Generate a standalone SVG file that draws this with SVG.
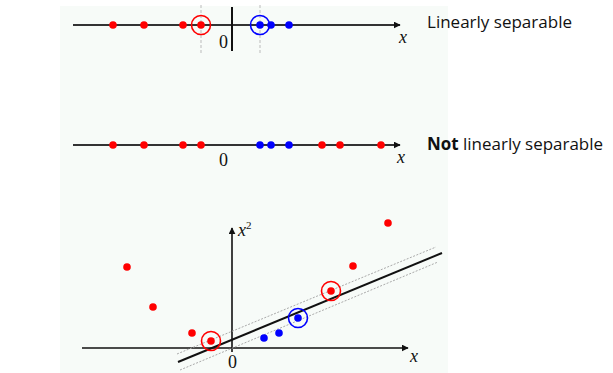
<svg xmlns="http://www.w3.org/2000/svg" width="613" height="373" viewBox="0 0 613 373">
<defs>
<style>
.axis{stroke:#333;stroke-width:2;fill:none}
.ax2{stroke:#111;stroke-width:1.6;fill:none}
.guide{stroke:#bbb;stroke-width:1;stroke-dasharray:3,2;fill:none}
.r{fill:#f00}
.b{fill:#00f}
.rc{fill:none;stroke:#f00;stroke-width:1.6}
.bc{fill:none;stroke:#00f;stroke-width:1.6}
.m{font-family:"Liberation Serif",serif;font-size:18px;fill:#111}
.mi{font-family:"Liberation Serif",serif;font-size:18px;font-style:italic;fill:#111}
.lbl{font-family:"Open Sans","Liberation Sans",sans-serif;font-size:17px;fill:#111}
.marg{stroke:#aaa;stroke-width:1;stroke-dasharray:2,1.5;fill:none}
</style>
<marker id="ah" viewBox="0 0 10 10" refX="9" refY="5" markerWidth="7" markerHeight="7" markerUnits="userSpaceOnUse" orient="auto"><path d="M0,0 L10,5 L0,10 z" fill="#111"/></marker>
</defs>
<rect x="0" y="0" width="613" height="373" fill="#fff"/>
<rect x="60" y="6" width="388" height="367" fill="#f7fbf8"/>

<g id="connectors">
<line class="axis" x1="73" y1="25" x2="400" y2="25" marker-end="url(#ah)"/>
<line class="guide" x1="201" y1="5" x2="201" y2="54"/>
<line class="guide" x1="260" y1="5" x2="260" y2="54"/>
<line x1="232" y1="7" x2="232" y2="51" stroke="#111" stroke-width="2"/>
<line class="axis" x1="73" y1="145" x2="400" y2="145" marker-end="url(#ah)"/>
<line class="ax2" x1="82" y1="348" x2="408" y2="348" marker-end="url(#ah)"/>
<line class="ax2" x1="232" y1="352" x2="232" y2="228" marker-end="url(#ah)"/>
<line x1="178" y1="362" x2="442" y2="253" stroke="#111" stroke-width="2"/>
<line class="marg" x1="177" y1="354" x2="436" y2="247"/>
<line class="marg" x1="180" y1="370" x2="438" y2="262"/>
</g>

<g id="top-plot">
<circle class="r" cx="113" cy="25" r="3.8"/>
<circle class="r" cx="144" cy="25" r="3.8"/>
<circle class="r" cx="183" cy="25" r="3.8"/>
<circle class="r" cx="201" cy="25" r="3.8"/>
<circle class="rc" cx="201" cy="25" r="9.5"/>
<circle class="b" cx="260" cy="25" r="3.8"/>
<circle class="b" cx="271" cy="25" r="3.8"/>
<circle class="b" cx="289" cy="25" r="3.8"/>
<circle class="bc" cx="260" cy="25" r="9.5"/>
<text class="m" x="219" y="48">0</text>
<text class="mi" x="399" y="43">x</text>
</g>

<g id="middle-plot">
<circle class="r" cx="113" cy="145" r="3.8"/>
<circle class="r" cx="144" cy="145" r="3.8"/>
<circle class="r" cx="183" cy="145" r="3.8"/>
<circle class="r" cx="201" cy="145" r="3.8"/>
<circle class="b" cx="260" cy="145" r="3.8"/>
<circle class="b" cx="271" cy="145" r="3.8"/>
<circle class="b" cx="289" cy="145" r="3.8"/>
<circle class="r" cx="322" cy="145" r="3.8"/>
<circle class="r" cx="340" cy="145" r="3.8"/>
<circle class="r" cx="381" cy="145" r="3.8"/>
<text class="m" x="219" y="166">0</text>
<text class="mi" x="397" y="163">x</text>
</g>

<g id="bottom-plot">
<circle class="r" cx="127" cy="267" r="3.8"/>
<circle class="r" cx="153" cy="307" r="3.8"/>
<circle class="r" cx="192" cy="333" r="3.8"/>
<circle class="r" cx="211" cy="341" r="3.8"/>
<circle class="rc" cx="211" cy="341" r="9.5"/>
<circle class="r" cx="331" cy="291" r="3.8"/>
<circle class="rc" cx="331" cy="291" r="9.5"/>
<circle class="r" cx="353" cy="266" r="3.8"/>
<circle class="r" cx="388" cy="223" r="3.8"/>
<circle class="b" cx="264" cy="338" r="3.8"/>
<circle class="b" cx="279" cy="333" r="3.8"/>
<circle class="b" cx="298" cy="318" r="3.8"/>
<circle class="bc" cx="298" cy="318" r="9.5"/>
<text class="m" x="228" y="368">0</text>
<text class="mi" x="410" y="362">x</text>
<text class="mi" x="238" y="236">x<tspan font-style="normal" font-size="11" dy="-7">2</tspan></text>
</g>

<g id="labels">
<text class="lbl" x="427" y="28" textLength="145" lengthAdjust="spacingAndGlyphs">Linearly separable</text>
<text class="lbl" x="427" y="150" textLength="176" lengthAdjust="spacingAndGlyphs"><tspan font-weight="bold">Not</tspan> linearly separable</text>
</g>
</svg>
